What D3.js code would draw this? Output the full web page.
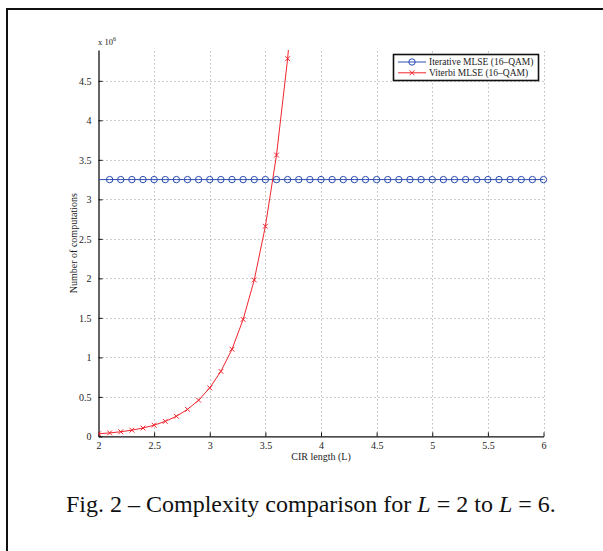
<!DOCTYPE html>
<html>
<head>
<meta charset="utf-8">
<script src="https://cdn.jsdelivr.net/npm/d3@7"></script>
<style>
  html, body { margin: 0; padding: 0; background: #fff; }
  svg { display: block; font-family: "Liberation Serif", "Times New Roman", serif; }
</style>
</head>
<body>
<div id="chart"></div>
<script>
// Values in units of 10^6 computations
const iterX = [2.1, 2.2, 2.3, 2.4, 2.5, 2.6, 2.7, 2.8, 2.9, 3.0,
               3.1, 3.2, 3.3, 3.4, 3.5, 3.6, 3.7, 3.8, 3.9, 4.0,
               4.1, 4.2, 4.3, 4.4, 4.5, 4.6, 4.7, 4.8, 4.9, 5.0,
               5.1, 5.2, 5.3, 5.4, 5.5, 5.6, 5.7, 5.8, 5.9, 6.0];
const iterY = [3.25, 3.25, 3.25, 3.25, 3.25, 3.25, 3.25, 3.25, 3.25, 3.25,
               3.25, 3.25, 3.25, 3.25, 3.25, 3.25, 3.25, 3.25, 3.25, 3.25,
               3.25, 3.25, 3.25, 3.25, 3.25, 3.25, 3.25, 3.25, 3.25, 3.25,
               3.25, 3.25, 3.25, 3.25, 3.25, 3.25, 3.25, 3.25, 3.25, 3.25];

const vitX = [2.0, 2.1, 2.2, 2.3, 2.4, 2.5, 2.6, 2.7, 2.8, 2.9,
              3.0, 3.1, 3.2, 3.3, 3.4, 3.5, 3.6, 3.7, 3.8];
const vitY = [0.033, 0.044, 0.059, 0.079, 0.106, 0.142, 0.19, 0.255, 0.342, 0.458,
              0.614, 0.823, 1.103, 1.48, 1.98, 2.66, 3.56, 4.78, 6.4];

const xTicks = [2, 2.5, 3, 3.5, 4, 4.5, 5, 5.5, 6];
const yTicks = [0, 0.5, 1, 1.5, 2, 2.5, 3, 3.5, 4, 4.5];
const seriesNames = ["Iterative MLSE (16\u2013QAM)", "Viterbi MLSE (16\u2013QAM)"];

const width = 603, height = 551;
const plot = { left: 98.5, right: 543.5, top: 50, bottom: 436.4 };
const blue = "#2a4cb0", red = "#f0252d";

const svg = d3.select("#chart").append("svg")
    .attr("width", width)
    .attr("height", height);

// outer figure frame (only top and left visible)
svg.append("line").attr("x1", 6).attr("x2", width).attr("y1", 9).attr("y2", 9)
    .attr("stroke", "#111").attr("stroke-width", 2);
svg.append("line").attr("x1", 7).attr("x2", 7).attr("y1", 8).attr("y2", height)
    .attr("stroke", "#111").attr("stroke-width", 2);

const x = d3.scaleLinear().domain([2, 6]).range([plot.left, plot.right]);
const y = d3.scaleLinear().domain([0, 4.89]).range([plot.bottom, plot.top]);

// grid
const grid = svg.append("g")
    .attr("stroke", "#9a9a9a")
    .attr("stroke-width", 1)
    .attr("stroke-dasharray", "1,3");
grid.selectAll("line.v").data(xTicks.slice(1)).enter().append("line")
    .attr("x1", d => Math.round(x(d)) + 0.5).attr("x2", d => Math.round(x(d)) + 0.5)
    .attr("y1", plot.bottom).attr("y2", plot.top);
grid.selectAll("line.h").data(yTicks.slice(1)).enter().append("line")
    .attr("x1", plot.left).attr("x2", plot.right)
    .attr("y1", d => Math.round(y(d)) + 0.5).attr("y2", d => Math.round(y(d)) + 0.5);

// axes (ticks inward)
const xAxis = d3.axisBottom(x).tickValues(xTicks).tickSizeInner(-4).tickSizeOuter(0)
    .tickPadding(7).tickFormat(d3.format("~g"));
const yAxis = d3.axisLeft(y).tickValues(yTicks).tickSizeInner(-4).tickSizeOuter(0)
    .tickPadding(7).tickFormat(d3.format("~g"));

const gx = svg.append("g").attr("transform", `translate(0,${plot.bottom})`).call(xAxis);
const gy = svg.append("g").attr("transform", `translate(${plot.left},0)`).call(yAxis);
[gx, gy].forEach(g => {
    g.select(".domain").attr("stroke", "#111").attr("stroke-width", 1.3);
    g.selectAll(".tick line").attr("stroke", "#111");
    g.selectAll("text").attr("font-family", "Liberation Serif, serif")
        .attr("font-size", 10).attr("fill", "#222");
});
gx.selectAll("text").attr("dy", "0.6em");

// clip to plotting area
svg.append("clipPath").attr("id", "clip").append("rect")
    .attr("x", plot.left).attr("y", plot.top)
    .attr("width", plot.right - plot.left + 6).attr("height", plot.bottom - plot.top);

const line = d3.line().x(d => x(d[0])).y(d => y(d[1]));
const iterData = iterX.map((d, i) => [d, iterY[i]]);
const vitData = vitX.map((d, i) => [d, vitY[i]]);

const plotG = svg.append("g").attr("clip-path", "url(#clip)");

// iterative series
plotG.append("path")
    .attr("d", line([[2, iterY[0]]].concat(iterData)))
    .attr("fill", "none").attr("stroke", blue).attr("stroke-width", 1);
svg.append("g").selectAll("circle").data(iterData).enter().append("circle")
    .attr("cx", d => x(d[0])).attr("cy", d => y(d[1])).attr("r", 3.2)
    .attr("fill", "none").attr("stroke", blue).attr("stroke-width", 1);

// viterbi series
plotG.append("path").datum(vitData)
    .attr("d", line)
    .attr("fill", "none").attr("stroke", red).attr("stroke-width", 1);

function xMark(g, cx, cy, s, color) {
    g.append("path")
        .attr("d", `M${cx - s},${cy - s}L${cx + s},${cy + s}M${cx - s},${cy + s}L${cx + s},${cy - s}`)
        .attr("stroke", color).attr("stroke-width", 1).attr("fill", "none");
}
const markG = plotG.append("g");
vitData.forEach(d => xMark(markG, x(d[0]), y(d[1]), 2.4, red));

// multiplier label
const mult = svg.append("text").attr("x", 98).attr("y", 45)
    .attr("font-size", 8.5).attr("fill", "#222");
mult.append("tspan").text("x 10");
mult.append("tspan").attr("font-size", 6).attr("dy", -4).text("6");

// axis titles
svg.append("text").attr("x", (plot.left + plot.right) / 2).attr("y", 460)
    .attr("text-anchor", "middle").attr("font-size", 10).attr("fill", "#222")
    .text("CIR length (L)");
svg.append("text").attr("transform", "rotate(-90)")
    .attr("x", -(plot.top + plot.bottom) / 2).attr("y", 77)
    .attr("text-anchor", "middle").attr("font-size", 10).attr("fill", "#222")
    .text("Number of computations");

// legend
const legend = svg.append("g");
legend.append("rect").attr("x", 393.5).attr("y", 54.5).attr("width", 145).attr("height", 26)
    .attr("fill", "#fff").attr("stroke", "#111").attr("stroke-width", 1.6);
const rows = [
    { name: seriesNames[0], color: blue, y: 62 },
    { name: seriesNames[1], color: red, y: 72.8 }
];
rows.forEach((r, i) => {
    legend.append("line").attr("x1", 398).attr("x2", 426).attr("y1", r.y).attr("y2", r.y)
        .attr("stroke", r.color).attr("stroke-width", 1);
    if (i === 0) {
        legend.append("circle").attr("cx", 412).attr("cy", r.y).attr("r", 3.2)
            .attr("fill", "none").attr("stroke", r.color);
    } else {
        xMark(legend, 412, r.y, 2.4, r.color);
    }
    legend.append("text").attr("x", 429).attr("y", r.y + 3.4)
        .attr("font-size", 9.5).attr("fill", "#222").text(r.name);
});

// caption
const cap = svg.append("text").attr("x", 66).attr("y", 512)
    .attr("font-size", 24).attr("fill", "#111");
cap.append("tspan").text("Fig. 2 \u2013 Complexity comparison for ");
cap.append("tspan").attr("font-style", "italic").text("L");
cap.append("tspan").text(" = 2 to ");
cap.append("tspan").attr("font-style", "italic").text("L");
cap.append("tspan").text(" = 6.");
</script>
</body>
</html>
